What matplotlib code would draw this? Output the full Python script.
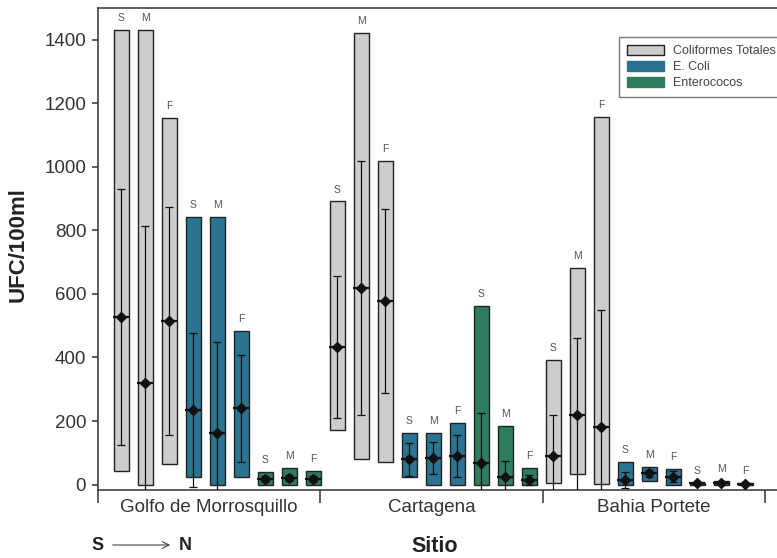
import numpy as np
import matplotlib.pyplot as plt
from matplotlib.patches import Patch, FancyArrowPatch

plt.rcParams['font.family'] = ['Liberation Sans', 'DejaVu Sans']

# datos: por sitio, orden CT (S, M, F), E. coli (S, M, F), Enterococos (S, M, F)
sites = ["Golfo de Morrosquillo", "Cartagena", "Bahia Portete"]
bacteria = ["Coliformes Totales", "E. Coli", "Enterococos"]
sectors = ["S", "M", "F"]

golfo_max = [1431, 1431, 1154, 842, 842, 483, 40, 53, 43]
golfo_min = [43, 0, 64, 24, 0, 23, 0, 0, 0]
golfo_mean = [527, 321, 515, 235, 161, 240, 17, 20, 17]
golfo_sd = [403, 493, 359, 242, 289, 168, 10, 10, 10]

cart_max = [891, 1421, 1019, 163, 163, 193, 562, 184, 51]
cart_min = [172, 81, 72, 23, 0, 0, 0, 0, 0]
cart_mean = [434, 619, 578, 79, 84, 90, 67, 25, 14]
cart_sd = [223, 400, 290, 51, 51, 66, 157, 49, 16]

bahia_max = [392, 682, 1157, 72, 56, 48, 6, 10, 5]
bahia_min = [4, 33, 1, 0, 12, 0, 0, 0, 0]
bahia_mean = [91, 219, 182, 14, 35, 25, 4, 5, 3]
bahia_sd = [128, 241, 368, 25, 10, 17, 2, 3, 2]

colors = ["#cdcdcd", "#2b7393", "#2f7d5c"]

vmax = np.array(golfo_max + cart_max + bahia_max)
vmin = np.array(golfo_min + cart_min + bahia_min)
vmean = np.array(golfo_mean + cart_mean + bahia_mean)
vsd = np.array(golfo_sd + cart_sd + bahia_sd)

x = np.arange(len(vmax))
bar_colors = [colors[(i // 3) % 3] for i in x]
bar_labels = [sectors[i % 3] for i in x]

fig = plt.figure(figsize=(7.77, 5.58), dpi=100)
ax = fig.add_axes([0.1261, 0.1219, 0.88, 0.8638])

ax.bar(x, vmax - vmin, bottom=vmin, width=0.63, color=bar_colors,
       edgecolor="#222222", linewidth=1.0, zorder=2)
ax.errorbar(x, vmean, yerr=vsd, fmt="none", ecolor="#111111",
            elinewidth=0.9, capsize=3, capthick=0.9, zorder=3)
ax.plot(x, vmean, ls="none", marker="_", ms=11, mew=1.6, color="#111111", zorder=4)
ax.plot(x, vmean, ls="none", marker="D", ms=5, color="#111111", zorder=5)

for xi, top, lab in zip(x, vmax, bar_labels):
    ax.annotate(lab, (xi, top), xytext=(0, 5), textcoords="offset points",
                ha="center", va="bottom", fontsize=7.5, color="#555555")

# ejes
left = -0.97
span = 9.27
bounds = left + span * np.arange(4)
ax.set_xlim(left, 27.52)
ax.set_ylim(-17, 1500)
ax.set_xticks(bounds)
ax.set_xticklabels([])
ax.set_yticks(np.arange(0, 1401, 200))
ax.tick_params(axis="x", direction="out", length=9.5, width=1.1, color="#333333")
ax.tick_params(axis="y", direction="out", length=4.5, width=1.1, color="#333333",
               labelsize=13.5, labelcolor="#333333", pad=4)
ax.spines["right"].set_visible(False)
for s in ["left", "top", "bottom"]:
    ax.spines[s].set_color("#333333")
    ax.spines[s].set_linewidth(1.1)

for i, name in enumerate(sites):
    ax.text((bounds[i] + bounds[i + 1]) / 2, -0.037, name, transform=ax.get_xaxis_transform(),
            ha="center", va="center", fontsize=13.5, color="#333333")

fig.text(18 / 777, 1 - 245 / 558, "UFC/100ml", rotation=90, ha="center", va="center",
         fontsize=16, fontweight="bold", color="#222222")
fig.text(435 / 777, 1 - 547 / 558, "Sitio", ha="center", va="center",
         fontsize=15.5, fontweight="bold", color="#222222")
fig.text(98 / 777, 1 - 546 / 558, "S", ha="center", va="center",
         fontsize=13, fontweight="bold", color="#222222")
fig.text(185 / 777, 1 - 546 / 558, "N", ha="center", va="center",
         fontsize=13, fontweight="bold", color="#222222")
fig.add_artist(FancyArrowPatch(
    (110 / 777, 1 - 545 / 558), (173 / 777, 1 - 545 / 558),
    transform=fig.transFigure, arrowstyle="->", mutation_scale=12,
    color="#444444", lw=0.8))

handles = [Patch(facecolor=colors[0], edgecolor="#222222", linewidth=1.0),
           Patch(facecolor=colors[1], edgecolor=colors[1]),
           Patch(facecolor=colors[2], edgecolor=colors[2])]
leg = fig.legend(handles, bacteria, loc="upper left",
                 bbox_to_anchor=(619 / 777, 1 - 37 / 558), fontsize=9,
                 fancybox=False, handlelength=3.0, handleheight=0.9,
                 labelspacing=0.3, borderpad=0.6, handletextpad=0.7,
                 borderaxespad=0, labelcolor="#444444")
leg.get_frame().set_edgecolor("#555555")
leg.get_frame().set_linewidth(1.0)

plt.savefig("out.png", dpi=100)
